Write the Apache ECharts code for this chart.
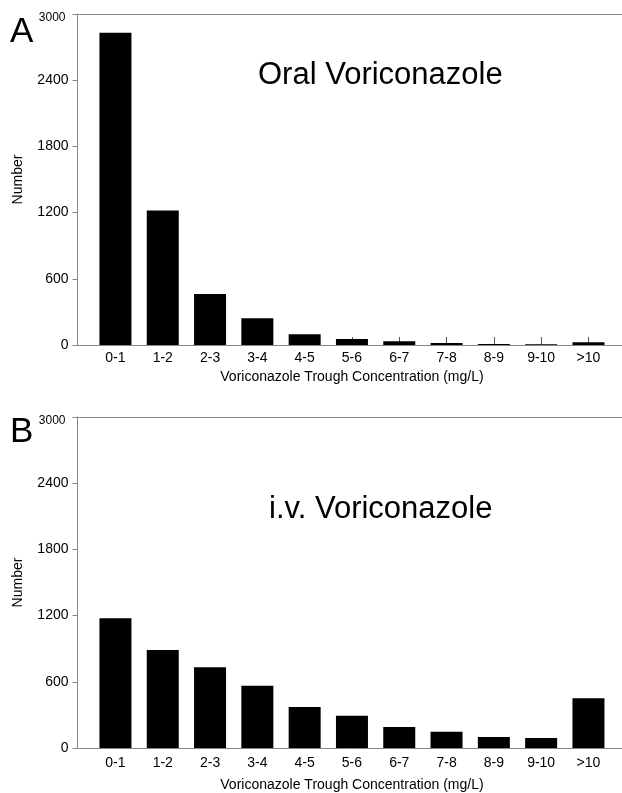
<!DOCTYPE html>
<html>
<head>
<meta charset="utf-8">
<script src="https://cdn.jsdelivr.net/npm/echarts@6/dist/echarts.min.js"></script>
<style>
  html, body { margin: 0; padding: 0; background: #fff; }
  #chart { width: 622px; height: 793px; }
</style>
</head>
<body>
<div id="chart"></div>
<script>
const categories = ['0-1', '1-2', '2-3', '3-4', '4-5', '5-6', '6-7', '7-8', '8-9', '9-10', '>10']
const oralCounts = [2830, 1220, 462, 242, 97, 54, 33, 18, 9, 7, 24]
const ivCounts = [1176, 889, 733, 564, 371, 292, 190, 148, 100, 90, 452]
const yTicks = { min: 0, max: 3000, interval: 600 }

const font = 'Liberation Sans, Arial, sans-serif'
const frameColor = '#878787'

// one frame grid (left/top/bottom lines + y labels) and one inner grid (bars) per panel
const panels = [
  { top: 14, height: 331, labelMargin: 6, nameGap: 25 },
  { top: 417, height: 331, labelMargin: 8, nameGap: 30 }
]

const frameLine = { show: true, lineStyle: { color: frameColor, width: 1 } }

const grids = []
const xAxes = []
const yAxes = []
panels.forEach((p, i) => {
  grids.push({ left: 77.5, right: 0, top: p.top, height: p.height, outerBoundsMode: 'none', containLabel: false })
  grids.push({ left: 91.8, right: 9.9, top: p.top, height: p.height, outerBoundsMode: 'none', containLabel: false })

  // plain lines on the frame grid: bottom and top borders
  xAxes.push({ gridIndex: i * 2, type: 'value', min: 0, max: 1, position: 'bottom', axisLine: frameLine, axisTick: { show: false }, axisLabel: { show: false }, splitLine: { show: false } })
  xAxes.push({ gridIndex: i * 2, type: 'value', min: 0, max: 1, position: 'top', axisLine: frameLine, axisTick: { show: false }, axisLabel: { show: false }, splitLine: { show: false } })
  xAxes.push({
    gridIndex: i * 2 + 1,
    type: 'category',
    data: categories,
    axisLine: { show: false },
    axisTick: { show: true, inside: true, length: 8, alignWithLabel: true, lineStyle: { color: '#555' } },
    axisLabel: { color: '#000', fontSize: 14, fontFamily: font, margin: p.labelMargin, interval: 0 },
    name: 'Voriconazole Trough Concentration (mg/L)',
    nameLocation: 'middle',
    nameGap: p.nameGap,
    nameTextStyle: { color: '#000', fontSize: 14, fontFamily: font }
  })

  yAxes.push({
    gridIndex: i * 2,
    type: 'value',
    min: yTicks.min,
    max: yTicks.max,
    interval: yTicks.interval,
    axisLine: frameLine,
    axisTick: { show: true, length: 5, lineStyle: { color: frameColor } },
    splitLine: { show: false },
    axisLabel: {
      color: '#000',
      fontSize: 14,
      fontFamily: font,
      margin: 9,
      formatter: v => v === yTicks.max ? '{s|' + v + '}' : String(v),
      rich: { s: { fontSize: 12, fontFamily: font, color: '#000', padding: [8, 3, 0, 0] } }
    },
    name: 'Number',
    nameLocation: 'middle',
    nameGap: 52,
    nameTextStyle: { color: '#000', fontSize: 14, fontFamily: font }
  })
  yAxes.push({ gridIndex: i * 2 + 1, type: 'value', min: yTicks.min, max: yTicks.max, show: false })
})

const chart = echarts.init(document.getElementById('chart'), null, { renderer: 'canvas' })
chart.setOption({
  animation: false,
  backgroundColor: '#fff',
  title: [
    { text: 'A', left: 5, top: 10, textStyle: { fontSize: 35, fontWeight: 'normal', color: '#000', fontFamily: font } },
    { text: 'B', left: 5, top: 410, textStyle: { fontSize: 35, fontWeight: 'normal', color: '#000', fontFamily: font } },
    { text: 'Oral Voriconazole', left: 253, top: 55, textStyle: { fontSize: 31, fontWeight: 'normal', color: '#000', fontFamily: font } },
    { text: 'i.v. Voriconazole', left: 264, top: 489, textStyle: { fontSize: 31, fontWeight: 'normal', color: '#000', fontFamily: font } }
  ],
  grid: grids,
  xAxis: xAxes,
  yAxis: yAxes,
  series: [
    { type: 'bar', xAxisIndex: 2, yAxisIndex: 1, data: oralCounts, barWidth: 32, itemStyle: { color: '#000' } },
    { type: 'bar', xAxisIndex: 5, yAxisIndex: 3, data: ivCounts, barWidth: 32, itemStyle: { color: '#000' } }
  ]
})
</script>
</body>
</html>
